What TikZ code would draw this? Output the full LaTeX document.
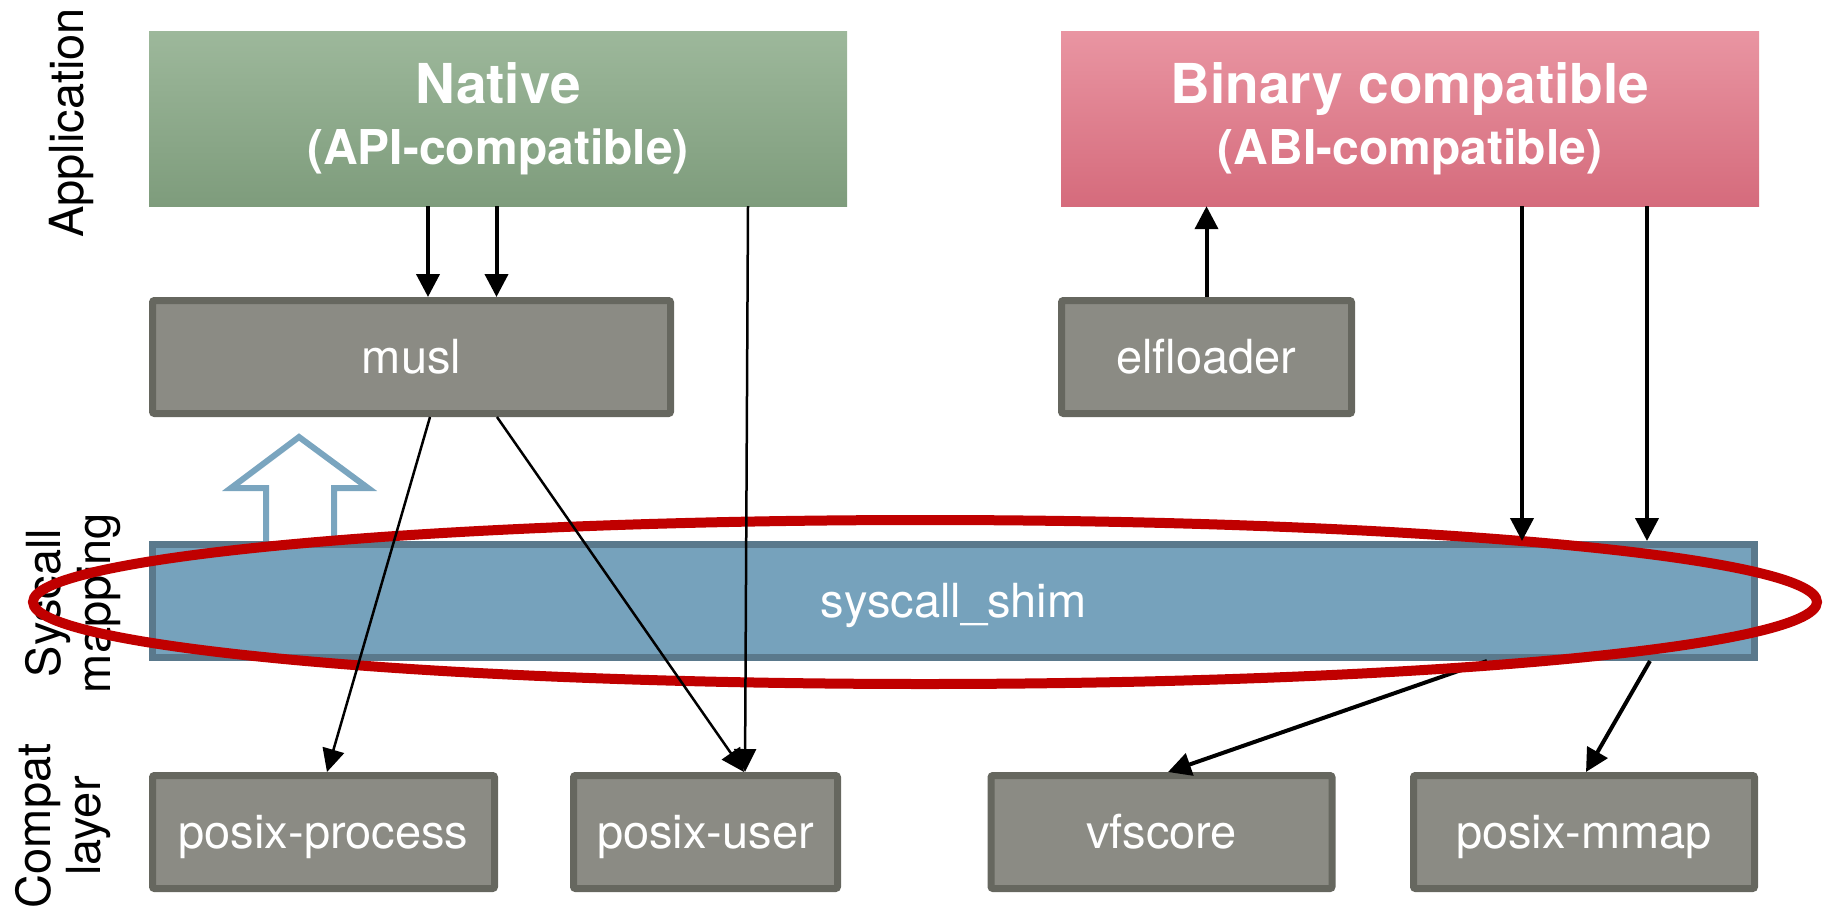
\documentclass[tikz,border=0pt]{standalone}
\usepackage{fontspec}
\setmainfont{TeX Gyre Heros}
\usetikzlibrary{arrows.meta}
\definecolor{natTop}{HTML}{9DB89B}
\definecolor{natBot}{HTML}{7E9C7C}
\definecolor{binTop}{HTML}{E995A2}
\definecolor{binBot}{HTML}{D56B7C}
\definecolor{modFill}{HTML}{8B8B84}
\definecolor{modLine}{HTML}{66675F}
\definecolor{shimFill}{HTML}{76A2BC}
\definecolor{shimLine}{HTML}{5A798C}
\definecolor{upBlue}{HTML}{7AA5BF}
\definecolor{ringRed}{HTML}{C00000}
\begin{document}
\begin{tikzpicture}[x=1pt, y=-1pt,
  every node/.style={font=\fontsize{47}{50}\selectfont},
  appbox/.style={rectangle, minimum width=698, minimum height=175, inner sep=0, align=center, text=white,
    font=\bfseries\fontsize{48}{61}\selectfont},
  modbox/.style={rectangle, fill=modFill, draw=modLine, line width=7, rounded corners=2,
    minimum height=113, inner sep=0, text=white, text height=34, text depth=2},
  layerlabel/.style={rotate=90, align=center, inner sep=0, text=black},
  arr/.style={-{Triangle[length=23pt, width=23pt]}, line width=4},
  thinarr/.style={-{Triangle[length=23pt, width=22pt]}, line width=2.5}]
  \useasboundingbox (0,0) rectangle (1824,911);

  \node[appbox, top color=natTop, bottom color=natBot] (native) at (498,118.5)
    {{\fontsize{55}{61}\selectfont Native}\\(API-compatible)};
  \node[appbox, top color=binTop, bottom color=binBot] (binary) at (1410,118.5)
    {{\fontsize{55}{61}\selectfont Binary compatible}\\(ABI-compatible)};

  \node[modbox, minimum width=518] (musl) at (411.5,357) {musl};
  \node[modbox, minimum width=290] (elf) at (1206.5,357) {elfloader};

  \draw[upBlue, line width=6, fill=white] (266,541) -- (266,488) -- (231,488) -- (299,437)
    -- (368,488) -- (334,488) -- (334,541);
  \node[modbox, fill=shimFill, draw=shimLine, rounded corners=0, minimum width=1602] (shim) at (953.5,601) {syscall\_shim};

  \foreach \n/\x/\w/\t in {pproc/323.5/342/posix-process, puser/705.5/264/posix-user,
                           vfs/1161.5/341/vfscore, pmmap/1584/341/posix-mmap}
    \node[modbox, minimum width=\w] (\n) at (\x,832) {\t};

  \node[layerlabel] (lapp) at (71,123) {Application};
  \node[layerlabel] (lsys) at (73,603) {Syscall\\mapping};
  \node[layerlabel] (lcom) at (63,826) {Compat\\layer};

  \draw[arr] ([xshift=533.5]shim.south) -- ([xshift=6.5]vfs.north);
  \draw[ringRed, line width=10] (925,602) ellipse [x radius=892, y radius=82];

  \draw[arr] ([xshift=16.5]musl.north |- native.south) -- ([xshift=16.5]musl.north);
  \draw[arr] ([xshift=85]musl.north |- native.south) -- ([xshift=85]musl.north);
  \draw[thinarr] ([xshift=250]native.south) -- ([xshift=39.5]puser.north);
  \draw[arr] (elf.north) -- (elf.north |- binary.south);
  \draw[arr] ([xshift=112]binary.south) -- ([xshift=112]binary.south |- shim.north);
  \draw[arr] ([xshift=237]binary.south) -- ([xshift=237]binary.south |- shim.north);
  \draw[thinarr] ([xshift=18.5]musl.south) -- ([xshift=3.5]pproc.north);
  \draw[thinarr] ([xshift=85.5]musl.south) -- ([xshift=38.5]puser.north);
  \draw[arr] ([xshift=696.5]shim.south) -- ([xshift=2]pmmap.north);
\end{tikzpicture}
\end{document}
